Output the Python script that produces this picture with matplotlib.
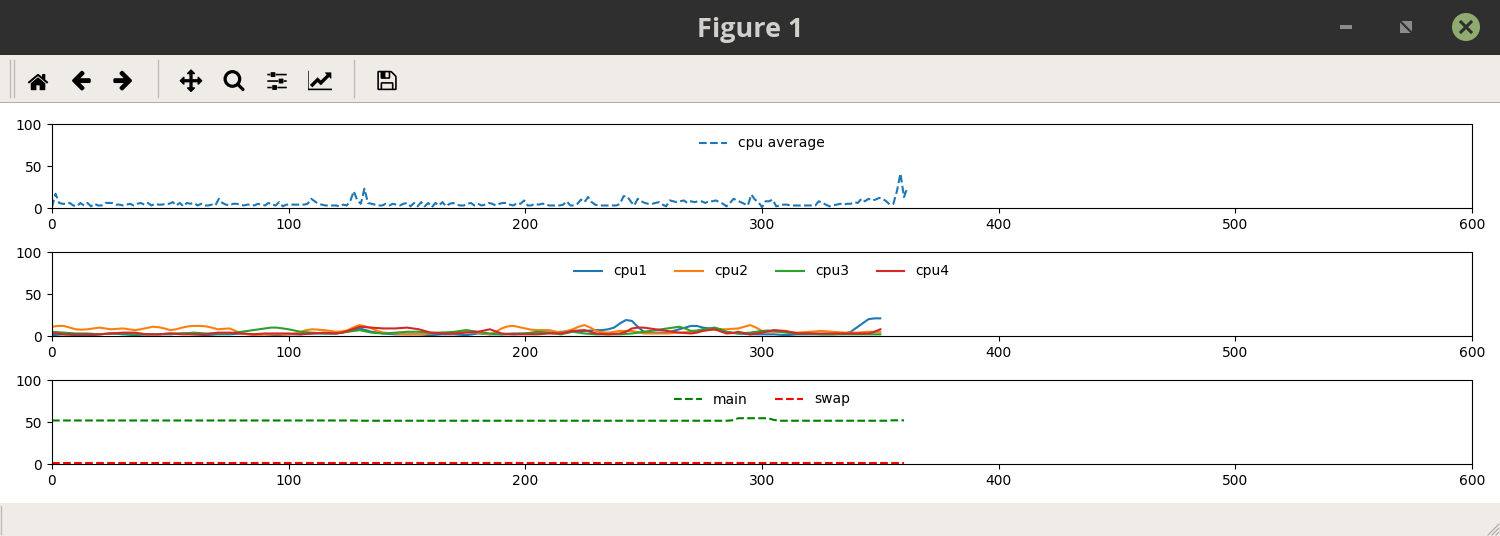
import matplotlib
matplotlib.use('Agg')
import matplotlib.pyplot as plt
import matplotlib.image as mpimg
from matplotlib.patches import Rectangle, Circle
from matplotlib.lines import Line2D
import os

# cpu average, one value every 1.5 seconds
cpu_avg = [1, 17, 6, 5, 5, 6, 3, 2, 6, 3, 6, 2, 5, 3, 3, 6, 6, 6, 4, 4,
           3, 4, 5, 3, 5, 6, 4, 6, 3, 5, 4, 4, 5, 5, 7, 3, 6, 2, 6, 5,
           6, 3, 5, 3, 3, 4, 3, 11, 6, 4, 3, 5, 5, 4, 3, 4, 4, 3, 5, 4,
           3, 6, 4, 3, 7, 2, 4, 4, 4, 4, 4, 4, 5, 11, 8, 5, 4, 3, 3, 3,
           3, 2, 4, 3, 8, 20, 9, 5, 23, 6, 5, 4, 3, 3, 5, 3, 5, 4, 3, 5,
           6, 2, 6, 2, 7, 2, 6, 1, 6, 3, 7, 2, 5, 6, 4, 3, 3, 5, 6, 3,
           5, 3, 4, 6, 5, 3, 5, 6, 6, 4, 3, 6, 5, 9, 3, 3, 5, 4, 5, 5,
           3, 3, 3, 3, 4, 8, 3, 3, 5, 10, 7, 13, 7, 4, 3, 3, 3, 3, 3, 3,
           5, 14, 14, 8, 3, 11, 8, 6, 5, 5, 6, 7, 4, 2, 9, 8, 7, 8, 9, 6,
           8, 7, 8, 8, 6, 8, 8, 9, 7, 5, 2, 6, 11, 9, 7, 5, 3, 16, 10, 7,
           1, 8, 8, 10, 2, 3, 4, 4, 3, 3, 3, 3, 3, 3, 3, 3, 8, 6, 4, 2,
           3, 4, 5, 4, 5, 5, 7, 6, 11, 8, 11, 9, 10, 12, 11, 8, 4, 5, 20, 41, 13, 25]
cpu_avg_step = 1.5
# per core, one value every 2.5 seconds
cpu1 = [1, 1.5, 2, 1.5, 1, 1, 1, 1,
        2, 2.5, 3, 2.5, 2, 1.5, 1, 1.5,
        2, 2, 2, 2, 2, 2.5, 3, 2.5,
        2, 1.5, 1, 1.5, 2, 2, 2, 2.5,
        3, 2.5, 2, 2, 2, 1.5, 1, 1.5,
        2, 2, 2, 2.5, 3, 3, 3, 3,
        3, 4, 6, 7.5, 9, 7, 5, 4,
        3, 2.5, 2, 2, 2, 2, 2, 1.5,
        1, 1.5, 2, 2, 2, 1.5, 1, 2,
        3, 2.5, 2, 2, 2, 2.5, 3, 3,
        3, 3.5, 4, 4, 4, 4.5, 5, 5.5,
        6, 6, 6, 6.5, 7, 7, 8, 10,
        15, 19, 18, 11, 5, 4, 4, 4,
        4, 6, 8, 10, 12, 12, 10, 9,
        8, 6.5, 5, 4, 3, 2.5, 2, 2,
        2, 2, 2, 1.5, 1, 1.5, 2, 2,
        2, 2, 2, 2, 2, 2.5, 3, 5,
        10, 15, 20, 21, 21]
cpu2 = [11, 12, 12, 10, 8, 7.5, 8, 9,
        10, 9, 8, 8.5, 9, 8, 7, 8,
        9.5, 11, 10.5, 9, 7, 8, 10, 11.5,
        12, 12, 11.5, 10, 8, 8.5, 9, 6,
        3, 2, 1.5, 1.5, 2, 2, 2, 2,
        2, 3, 5, 7, 8, 7.5, 7, 6,
        5, 5.5, 7, 10.5, 13, 11.5, 9, 6,
        4, 3.5, 3, 2.5, 2, 2, 2, 2.5,
        3, 3.5, 4, 3.5, 3, 4, 5, 4.5,
        4, 3, 2, 5, 9, 11.5, 12, 10.5,
        9, 7.5, 7, 7, 7, 5.5, 4, 6,
        8, 11, 13, 10, 6, 4.5, 4, 5,
        6, 6, 6, 4.5, 3, 3, 3, 3,
        3, 3.5, 4, 4.5, 5, 6, 7, 7.5,
        8, 8, 8, 8.5, 9, 11, 13, 10,
        6, 5, 5, 5, 5, 4.5, 4, 4.5,
        5, 5.5, 6, 5.5, 5, 4.5, 4, 4,
        4, 4.5, 5, 5, 5]
cpu3 = [5, 4.5, 4, 3.5, 3, 3, 3, 2.5,
        2, 2.5, 3, 3, 3, 2.5, 2, 2,
        2, 2, 2, 2.5, 3, 3, 3, 3.5,
        4, 3.5, 3, 3, 3, 3, 3, 4,
        5, 6, 7, 8, 9, 10, 10, 9,
        8, 6.5, 5, 4.5, 4, 3.5, 3, 3,
        3, 4, 5, 6, 7, 5.5, 4, 3.5,
        3, 3.5, 4, 4.5, 5, 5, 5, 4.5,
        4, 4, 4, 4.5, 5, 6, 7, 6,
        5, 4, 3, 2.5, 2, 2, 2, 2.5,
        3, 4, 5, 4.5, 4, 3, 2, 3.5,
        5, 4, 3, 2.5, 2, 2, 2, 2,
        2, 2.5, 3, 4, 5, 6, 7, 8,
        9, 10, 11, 9, 6, 6.5, 8, 9,
        10, 8, 5, 3.5, 3, 3.5, 4, 5,
        6, 6.5, 6, 5, 4, 3.5, 3, 3,
        3, 2.5, 2, 2, 2, 2, 2, 2,
        2, 2, 2, 2, 2]
cpu4 = [4, 3, 2, 2, 2, 2, 2, 2,
        2, 2.5, 3, 3.5, 4, 4, 4, 3,
        2, 2, 2, 2.5, 3, 2.5, 2, 2,
        2, 2, 2, 3, 4, 4, 4, 3.5,
        3, 2.5, 2, 2.5, 3, 3, 3, 3,
        3, 2.5, 2, 2.5, 3, 3.5, 4, 3.5,
        3, 4, 6, 8.5, 11, 10.5, 10, 9.5,
        9, 9, 9, 9.5, 10, 9, 8, 6,
        4, 3.5, 3, 3, 3, 3.5, 4, 4.5,
        5, 6.5, 8, 5.5, 3, 2.5, 2, 2,
        2, 2, 2, 2.5, 3, 3, 3, 4.5,
        6, 6.5, 7, 5, 3, 2.5, 2, 2.5,
        3, 5, 9, 10, 10, 9, 8, 7,
        6, 5, 4, 3.5, 3, 4, 6, 7,
        8, 5.5, 3, 3.5, 5, 3.5, 2, 3,
        4, 5.5, 7, 6.5, 6, 4.5, 3, 3,
        3, 3, 3, 3, 3, 3, 3, 3,
        3, 3, 3, 5, 8]
cpu_step = 2.5
# memory, one value every 2.5 seconds
mem_main = [51.8, 51.8, 51.8, 51.8, 51.8, 51.8, 51.8, 51.8,
            51.8, 51.8, 51.8, 51.8, 51.8, 51.8, 51.8, 51.8,
            51.8, 51.8, 51.8, 51.8, 51.8, 51.8, 51.8, 51.8,
            51.8, 51.8, 51.8, 51.8, 51.8, 51.8, 51.8, 51.8,
            51.8, 51.8, 51.8, 51.8, 51.8, 51.8, 51.8, 51.8,
            51.8, 51.8, 51.8, 51.8, 51.8, 51.8, 51.8, 51.8,
            51.8, 51.8, 51.8, 51.8, 51.5, 51.5, 51.5, 51.5,
            51.5, 51.5, 51.5, 51.5, 51.5, 51.5, 51.5, 51.5,
            51.5, 51.5, 51.5, 51.5, 51.5, 51.5, 51.5, 51.5,
            51.5, 51.5, 51.5, 51.5, 51.5, 51.5, 51.5, 51.5,
            51.5, 51.5, 51.5, 51.5, 51.5, 51.5, 51.5, 51.5,
            51.5, 51.5, 51.5, 51.5, 51.5, 51.5, 51.5, 51.5,
            51.5, 51.5, 51.5, 51.5, 51.5, 51.5, 51.5, 51.5,
            51.5, 51.5, 51.5, 51.5, 51.5, 51.5, 51.5, 51.5,
            51.5, 51.5, 51.5, 52, 54.5, 54.5, 54.5, 54.5,
            54.5, 54.5, 52.5, 51.5, 51.5, 51.5, 51.5, 51.5,
            51.5, 51.5, 51.5, 51.5, 51.5, 51.5, 51.5, 51.5,
            51.5, 51.5, 51.5, 51.5, 51.5, 51.5, 52, 52,
            52]
mem_swap = [1.5, 1.5, 1.5, 1.5, 1.5, 1.5, 1.5, 1.5,
            1.5, 1.5, 1.5, 1.5, 1.5, 1.5, 1.5, 1.5,
            1.5, 1.5, 1.5, 1.5, 1.5, 1.5, 1.5, 1.5,
            1.5, 1.5, 1.5, 1.5, 1.5, 1.5, 1.5, 1.5,
            1.5, 1.5, 1.5, 1.5, 1.5, 1.5, 1.5, 1.5,
            1.5, 1.5, 1.5, 1.5, 1.5, 1.5, 1.5, 1.5,
            1.5, 1.5, 1.5, 1.5, 1.5, 1.5, 1.5, 1.5,
            1.5, 1.5, 1.5, 1.5, 1.5, 1.5, 1.5, 1.5,
            1.5, 1.5, 1.5, 1.5, 1.5, 1.5, 1.5, 1.5,
            1.5, 1.5, 1.5, 1.5, 1.5, 1.5, 1.5, 1.5,
            1.5, 1.5, 1.5, 1.5, 1.5, 1.5, 1.5, 1.5,
            1.5, 1.5, 1.5, 1.5, 1.5, 1.5, 1.5, 1.5,
            1.5, 1.5, 1.5, 1.5, 1.5, 1.5, 1.5, 1.5,
            1.5, 1.5, 1.5, 1.5, 1.5, 1.5, 1.5, 1.5,
            1.5, 1.5, 1.5, 1.5, 1.5, 1.5, 1.5, 1.5,
            1.5, 1.5, 1.5, 1.5, 1.5, 1.5, 1.5, 1.5,
            1.5, 1.5, 1.5, 1.5, 1.5, 1.5, 1.5, 1.5,
            1.5, 1.5, 1.5, 1.5, 1.5, 1.5, 1.5, 1.5,
            1.5]
xticks = [0, 100, 200, 300, 400, 500, 600]
yticks = [0, 50, 100]

W, H = 1500, 536
BG = '#efebe7'
fig = plt.figure(figsize=(W / 100, H / 100), dpi=100, facecolor='white')


def xs(vals, step):
    return [i * step for i in range(len(vals))]


def panel(top):
    # top is the pixel row of the upper edge of the axes
    ax = fig.add_axes([52 / W, 1 - (top + 84) / H, 1420 / W, 84 / H])
    ax.set_xlim(0, 600)
    ax.set_ylim(0, 100)
    ax.set_xticks(xticks)
    ax.set_yticks(yticks)
    return ax


ax1 = panel(124)
ax1.plot(xs(cpu_avg, cpu_avg_step), cpu_avg, '--', color='tab:blue', label='cpu average')
ax1.legend(loc='upper center', frameon=False)

ax2 = panel(252)
ax2.plot(xs(cpu1, cpu_step), cpu1, color='tab:blue', label='cpu1')
ax2.plot(xs(cpu2, cpu_step), cpu2, color='tab:orange', label='cpu2')
ax2.plot(xs(cpu3, cpu_step), cpu3, color='tab:green', label='cpu3')
ax2.plot(xs(cpu4, cpu_step), cpu4, color='tab:red', label='cpu4')
ax2.legend(loc='upper center', frameon=False, ncol=4)

ax3 = panel(380)
ax3.plot(xs(mem_main, cpu_step), mem_main, '--', color='green', label='main')
ax3.plot(xs(mem_swap, cpu_step), mem_swap, '--', color='red', label='swap')
ax3.legend(loc='upper center', frameon=False, ncol=2)

# window chrome, drawn in pixel coordinates over the whole figure
win = fig.add_axes([0, 0, 1, 1], zorder=-1)
win.set_xlim(0, W)
win.set_ylim(H, 0)
win.axis('off')
win.add_patch(Rectangle((0, 0), W, 55, color='#2f2f2f', lw=0))
win.add_patch(Rectangle((0, 55), W, 47, color=BG, lw=0))
win.add_patch(Rectangle((0, 102), W, 1, color='#aeaca8', lw=0))
win.add_patch(Rectangle((0, 503), W, 33, color=BG, lw=0))
win.text(750, 30, 'Figure 1', color='#d2d0cc', fontsize=19.5, fontweight='bold',
         family='Open Sans', ha='center', va='center')
win.add_patch(Rectangle((1340, 25), 12, 4, color='#8c8c8c', lw=0))
win.add_patch(Rectangle((1400, 21), 12, 12, color='#8c8c8c', lw=0))
win.add_line(Line2D([1399, 1413], [20, 34], color='#2f2f2f', lw=1.5))
win.add_patch(Circle((1466, 27), 14, color='#8fab70', lw=0))
win.add_line(Line2D([1461, 1471], [22, 32], color='#2f2f2f', lw=2.2))
win.add_line(Line2D([1461, 1471], [32, 22], color='#2f2f2f', lw=2.2))
for x in [10, 14, 158, 354]:
    win.add_line(Line2D([x, x], [60, 97], color='#bdbbb7', lw=1))
win.add_line(Line2D([1, 1], [506, 534], color='#bdbbb7', lw=1))
for d in [4, 8, 12]:
    win.add_line(Line2D([W - d, W - 1], [H - 1, H - d], color='#a8a6a2', lw=0.8))

# the real toolbar icons that ship with matplotlib
icons = [('home', 38), ('back', 81), ('forward', 123), ('move', 191),
         ('zoom_to_rect', 234), ('subplots', 277), ('qt4_editor_options', 320),
         ('filesave', 387)]
img_dir = os.path.join(matplotlib.get_data_path(), 'images')
for name, cx in icons:
    img = mpimg.imread(os.path.join(img_dir, name + '.png'))
    fig.figimage(img, cx - img.shape[1] // 2, H - 80 - img.shape[0] // 2,
                 origin='upper', zorder=5)

fig.savefig('out.png', dpi=100)
